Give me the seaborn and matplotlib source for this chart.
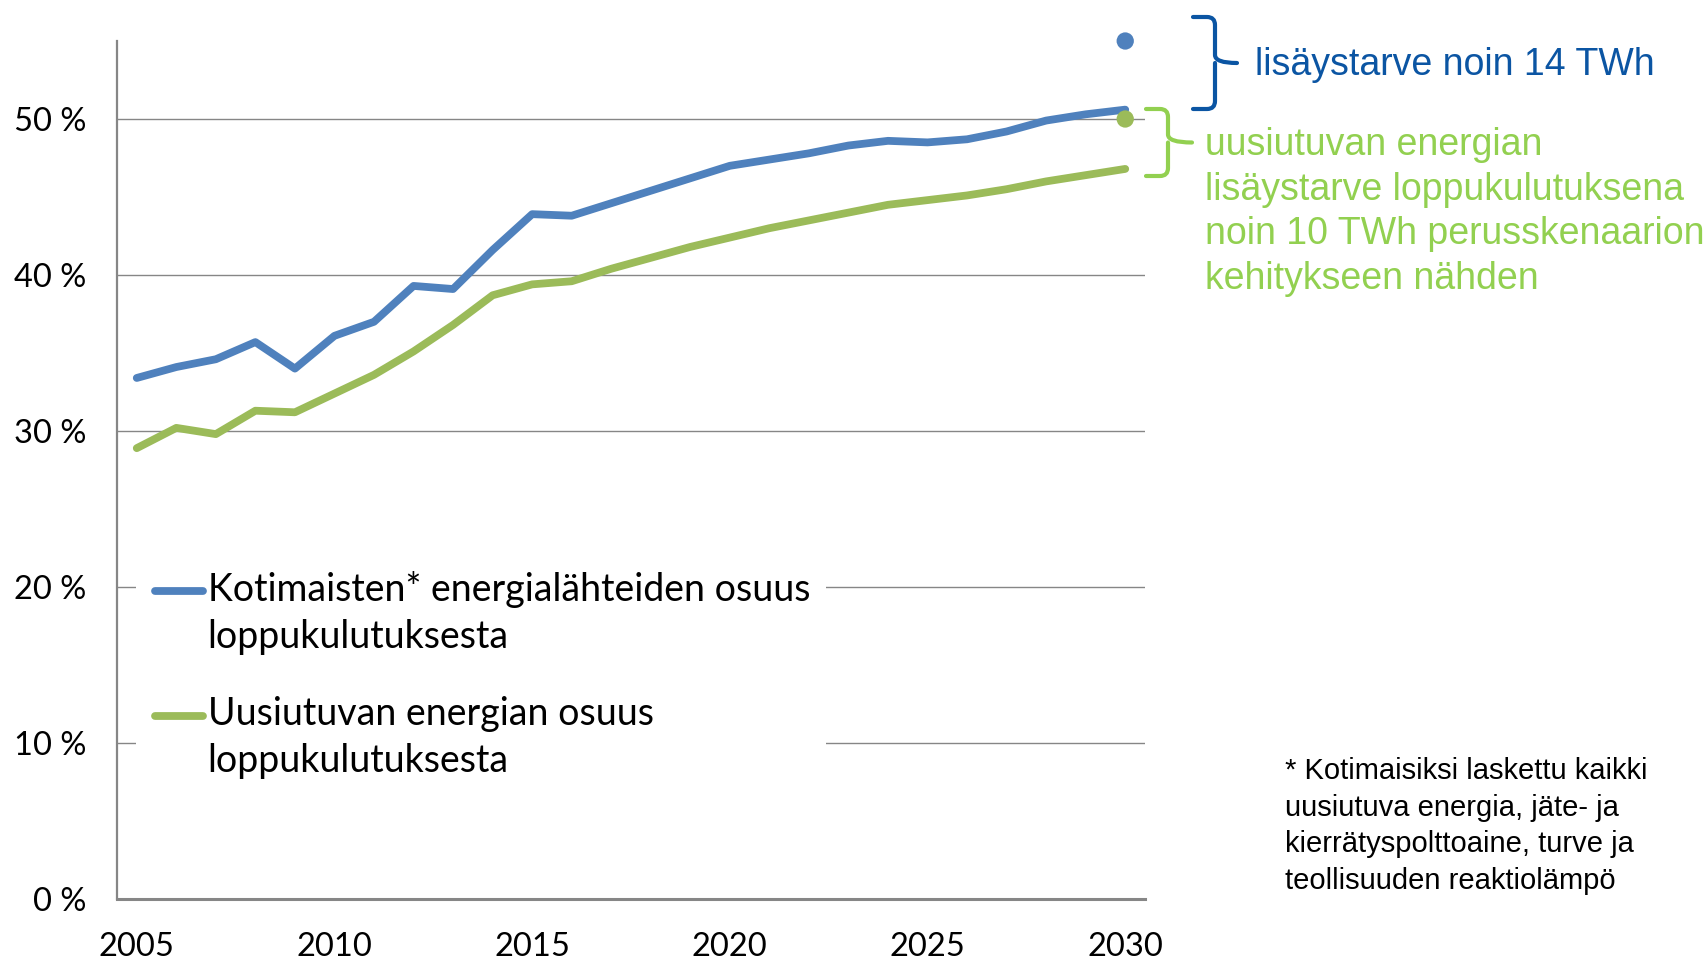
import numpy as np
import pandas as pd
import matplotlib
matplotlib.use("Agg")
import matplotlib.pyplot as plt
import seaborn as sns
from matplotlib.path import Path
from matplotlib.patches import PathPatch, Rectangle
from matplotlib.legend_handler import HandlerLine2D
from matplotlib.ticker import FixedLocator, FuncFormatter
import matplotlib.transforms as mtransforms

# --- data ---
years = list(range(2005, 2031))
kotimaiset = [33.4, 34.1, 34.6, 35.7, 34.0, 36.1, 37.0, 39.3, 39.1, 41.6,
              43.9, 43.8, 44.6, 45.4, 46.2, 47.0, 47.4, 47.8, 48.3, 48.6,
              48.5, 48.7, 49.2, 49.9, 50.3, 50.6]
uusiutuvat = [28.9, 30.2, 29.8, 31.3, 31.2, 32.4, 33.6, 35.1, 36.8, 38.7,
              39.4, 39.6, 40.4, 41.1, 41.8, 42.4, 43.0, 43.5, 44.0, 44.5,
              44.8, 45.1, 45.5, 46.0, 46.4, 46.8]
target_years = [2030, 2030]
target_values = [55.0, 50.0]

label_kot = "Kotimaisten* energialähteiden osuus\nloppukulutuksesta"
label_uus = "Uusiutuvan energian osuus\nloppukulutuksesta"
note_blue = "lisäystarve noin 14 TWh"
note_green = ("uusiutuvan energian\nlisäystarve loppukulutuksena\n"
              "noin 10 TWh perusskenaarion\nkehitykseen nähden")
footnote = ("* Kotimaisiksi laskettu kaikki\nuusiutuva energia, jäte- ja\n"
            "kierrätyspolttoaine, turve ja\nteollisuuden reaktiolämpö")

BLUE = "#4F81BD"
GREEN = "#9BBB59"
GRID = "#868686"
TXT_BLUE = "#0B55A3"
TXT_GREEN = "#92D050"

df = pd.DataFrame({
    "vuosi": years * 2,
    "osuus": kotimaiset + uusiutuvat,
    "sarja": [label_kot] * len(years) + [label_uus] * len(years),
})
df_target = pd.DataFrame({"vuosi": target_years, "osuus": target_values,
                          "sarja": [label_kot, label_uus]})

# --- style ---
sns.set_style("white")
NARROW = ["Lato", "DejaVu Sans"]
ARIAL = ["Liberation Sans", "DejaVu Sans"]
plt.rcParams["font.family"] = NARROW

W, H = 1704, 959
fig = plt.figure(figsize=(W / 100, H / 100), dpi=100)
ax = fig.add_axes([117 / W, 1 - 899 / H, 1028 / W, 858 / H])

palette = {label_kot: BLUE, label_uus: GREEN}
LW = 5.6
sns.lineplot(data=df, x="vuosi", y="osuus", hue="sarja", palette=palette,
             linewidth=LW, ax=ax, zorder=3)
for ln in ax.get_lines():
    ln.set_solid_capstyle("round")
    ln.set_solid_joinstyle("round")
sns.scatterplot(data=df_target, x="vuosi", y="osuus", hue="sarja",
                palette=palette, s=155, linewidth=0, ax=ax, zorder=4,
                clip_on=False, legend=False)

ax.set_xlim(2004.5, 2030.5)
ax.set_ylim(0, 55)
ax.set_xlabel("")
ax.set_ylabel("")

ax.yaxis.set_major_locator(FixedLocator([0, 10, 20, 30, 40, 50]))
ax.yaxis.set_major_formatter(FuncFormatter(lambda v, p: f"{int(v)} %"))
ax.xaxis.set_major_locator(FixedLocator(list(range(2005, 2031, 5))))
ax.xaxis.set_minor_locator(FixedLocator([y - 0.5 for y in range(2005, 2031, 5)]))
ax.tick_params(axis="x", which="major", length=0, pad=24, labelsize=23.5,
               labelcolor="black")
ax.tick_params(axis="x", which="minor", length=7, width=1, color=GRID,
               direction="out")
ax.tick_params(axis="y", which="major", length=8, width=1, color=GRID,
               direction="out", pad=14, labelsize=23.5, labelcolor="black")

ax.grid(axis="y", color=GRID, linewidth=1.0)
ax.grid(axis="x", visible=False)
for side in ["top", "right"]:
    ax.spines[side].set_visible(False)
ax.spines["left"].set_color(GRID)
ax.spines["left"].set_linewidth(1.6)
ax.spines["bottom"].set_color(GRID)
ax.spines["bottom"].set_linewidth(2.2)

# white area behind the legend hides the gridlines
blend = mtransforms.blended_transform_factory(ax.transAxes, ax.transData)
ax.add_patch(Rectangle((19 / 1028, 4), (826 - 136) / 1028, 21,
                       transform=blend, facecolor="white", edgecolor="none",
                       zorder=1))


class FirstLineHandler(HandlerLine2D):
    # put the swatch next to the first text line
    def create_artists(self, legend, orig_handle, xdescent, ydescent,
                       width, height, fontsize, trans):
        arts = super().create_artists(legend, orig_handle, xdescent, ydescent,
                                      width, height, fontsize, trans)
        for a in arts:
            a.set_ydata([y + 16.8 for y in a.get_ydata()])
            a.set_solid_capstyle("round")
        return arts


handles, labels = ax.get_legend_handles_labels()
leg = ax.legend(handles, labels, loc="upper left",
                bbox_to_anchor=(155 / W, 1 - 571 / H),
                bbox_transform=fig.transFigure, frameon=False,
                fontsize=27, handlelength=1.27, handletextpad=0.13,
                borderpad=0, borderaxespad=0, labelspacing=1.09,
                handler_map={matplotlib.lines.Line2D: FirstLineHandler()})
for txt in leg.get_texts():
    txt.set_color("black")
    txt.set_linespacing(1.39)
for ln in leg.get_lines():
    ln.set_linewidth(LW)


# --- braces and notes on the right ---
def px(x, y):
    return (x / W, 1 - y / H)


def brace(x0, xv, xn, ytop, ybot, color, r=8):
    ymid = (ytop + ybot) / 2
    verts = [px(x0, ytop), px(xv - r, ytop), px(xv, ytop), px(xv, ytop + r),
             px(xv, ymid - r), px(xv, ymid), px(xn, ymid),
             px(xv, ymid), px(xv, ymid + r), px(xv, ybot - r),
             px(xv, ybot), px(xv - r, ybot), px(x0, ybot)]
    codes = [Path.MOVETO, Path.LINETO, Path.CURVE3, Path.CURVE3,
             Path.LINETO, Path.CURVE3, Path.CURVE3,
             Path.MOVETO, Path.CURVE3, Path.LINETO,
             Path.CURVE3, Path.CURVE3, Path.LINETO]
    fig.add_artist(PathPatch(Path(verts, codes), transform=fig.transFigure,
                             facecolor="none", edgecolor=color, linewidth=3.0,
                             capstyle="round", joinstyle="round"))


brace(1193, 1215, 1237, 17, 109, TXT_BLUE)
brace(1146, 1168, 1192, 109, 176, TXT_GREEN)

fig.text(*px(1255, 65), note_blue, color=TXT_BLUE, fontsize=27,
         family=ARIAL, va="center", ha="left")
fig.text(*px(1205, 212), note_green, color=TXT_GREEN, fontsize=27,
         family=ARIAL, va="center", ha="left", linespacing=1.32)
fig.text(*px(1285, 826), footnote, color="black", fontsize=21,
         family=ARIAL, va="center", ha="left", linespacing=1.38)

fig.savefig("out.png", dpi=100)
